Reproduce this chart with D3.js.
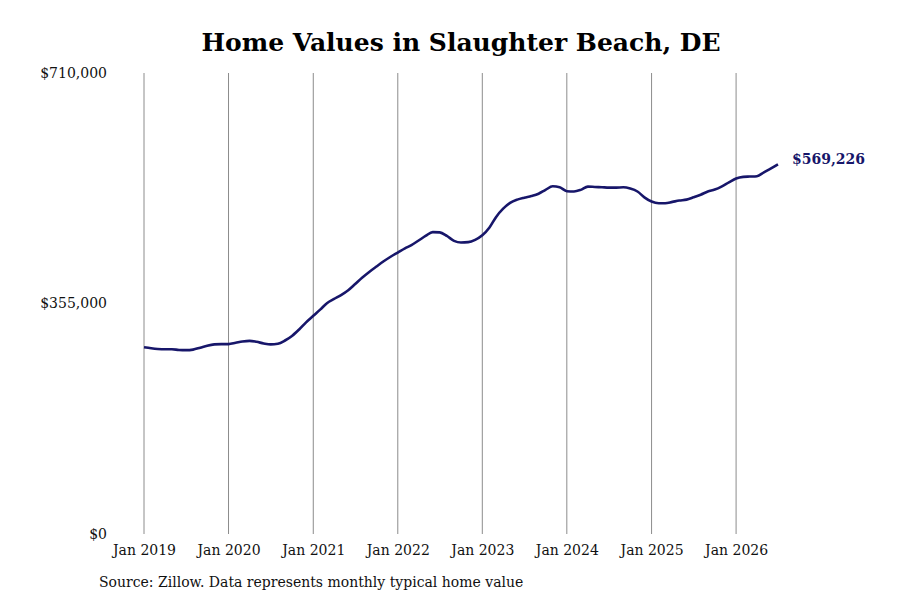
<!DOCTYPE html>
<html>
<head>
<meta charset="utf-8">
<script src="https://cdn.jsdelivr.net/npm/d3@7"></script>
<style>
  body { margin: 0; background: #fff; }
  text { font-family: "DejaVu Serif", serif; }
</style>
</head>
<body>
<div id="chart"></div>
<script>
// monthly typical home value, Jan 2019 .. Jul 2026
var startMonth = '2019-01'
var values = [
  287500, 286000, 285000, 284500, 284500, 283500, 283200, 284000, 287000, 290000, 292000, 292500,
  292500, 294500, 296500, 297500, 296000, 293500, 292000, 293000, 298000, 305000, 315000, 326000,
  336000, 346000, 355500, 362000, 368000, 375500, 385000, 395000, 404000, 412000, 420000, 427000,
  433500, 440000, 445000, 452000, 459000, 465000, 464500, 459000, 451500, 449000, 449500, 453000,
  460000, 472000, 488000, 501000, 510000, 515000, 518000, 520500, 524000, 530000, 535500, 534000,
  528000, 527500, 530000, 535000, 534500, 534000, 533500, 533500, 534000, 532000, 527500, 518500,
  512000, 509500, 509500, 511500, 513500, 515000, 518500, 522500, 527500, 530500, 535500, 541500,
  547500, 550000, 550500, 551000, 557000, 563000, 569226
]
var yTicks = [0, 355000, 710000]
var xTickYears = [2019, 2020, 2021, 2022, 2023, 2024, 2025, 2026]
var title = 'Home Values in Slaughter Beach, DE'
var source = 'Source: Zillow. Data represents monthly typical home value'

var width = 900, height = 600
var margin = {top: 73, right: 122, bottom: 66, left: 144}
var lineColor = '#17166a'

var t0 = d3.timeParse('%Y-%m')(startMonth)
var data = values.map((v, i) => ({date: d3.timeMonth.offset(t0, i), value: v}))

var svg = d3.select('#chart').append('svg')
  .attr('width', width).attr('height', height)

var x = d3.scaleTime()
  .domain([t0, d3.timeMonth.offset(t0, values.length - 1)])
  .range([margin.left, width - margin.right])
var y = d3.scaleLinear()
  .domain([0, 710000])
  .range([height - margin.bottom, margin.top])

svg.append('text')
  .attr('x', 461).attr('y', 51)
  .attr('text-anchor', 'middle')
  .style('font-size', '25px').style('font-weight', 'bold')
  .text(title)

// vertical grid
var xTicks = xTickYears.map(yr => new Date(yr, 0, 1))
svg.append('g').selectAll('line').data(xTicks)
  .enter().append('line')
  .attr('x1', d => x(d)).attr('x2', d => x(d))
  .attr('y1', y(710000)).attr('y2', y(0))
  .attr('stroke', '#8c8c8c').attr('stroke-width', 1)

var xAxis = svg.append('g')
  .attr('transform', `translate(0,${y(0)})`)
  .call(d3.axisBottom(x).tickValues(xTicks).tickSize(0).tickPadding(11).tickFormat(d3.timeFormat('Jan %Y')))
xAxis.select('.domain').remove()
xAxis.selectAll('text').style('font-size', '14px').attr('fill', '#111').style('font-family', '"DejaVu Serif", serif')

var yAxis = svg.append('g')
  .attr('transform', `translate(107,0)`)
  .call(d3.axisLeft(y).tickValues(yTicks).tickSize(0).tickPadding(0).tickFormat(d => '$' + d3.format(',')(d)))
yAxis.select('.domain').remove()
yAxis.selectAll('text').style('font-size', '14px').attr('fill', '#111').style('font-family', '"DejaVu Serif", serif')

var line = d3.line()
  .x(d => x(d.date)).y(d => y(d.value))
  .curve(d3.curveMonotoneX)

svg.append('path').datum(data)
  .attr('d', line)
  .attr('fill', 'none')
  .attr('stroke', lineColor)
  .attr('stroke-width', 2.6)

var last = data[data.length - 1]
svg.append('text')
  .attr('x', x(last.date) + 14).attr('y', y(last.value) - 5)
  .attr('dy', '0.35em')
  .attr('fill', lineColor)
  .style('font-size', '14px').style('font-weight', 'bold')
  .text('$' + d3.format(',')(last.value))

svg.append('text')
  .attr('x', 99).attr('y', 587)
  .style('font-size', '14px').attr('fill', '#111')
  .text(source)
</script>
</body>
</html>
